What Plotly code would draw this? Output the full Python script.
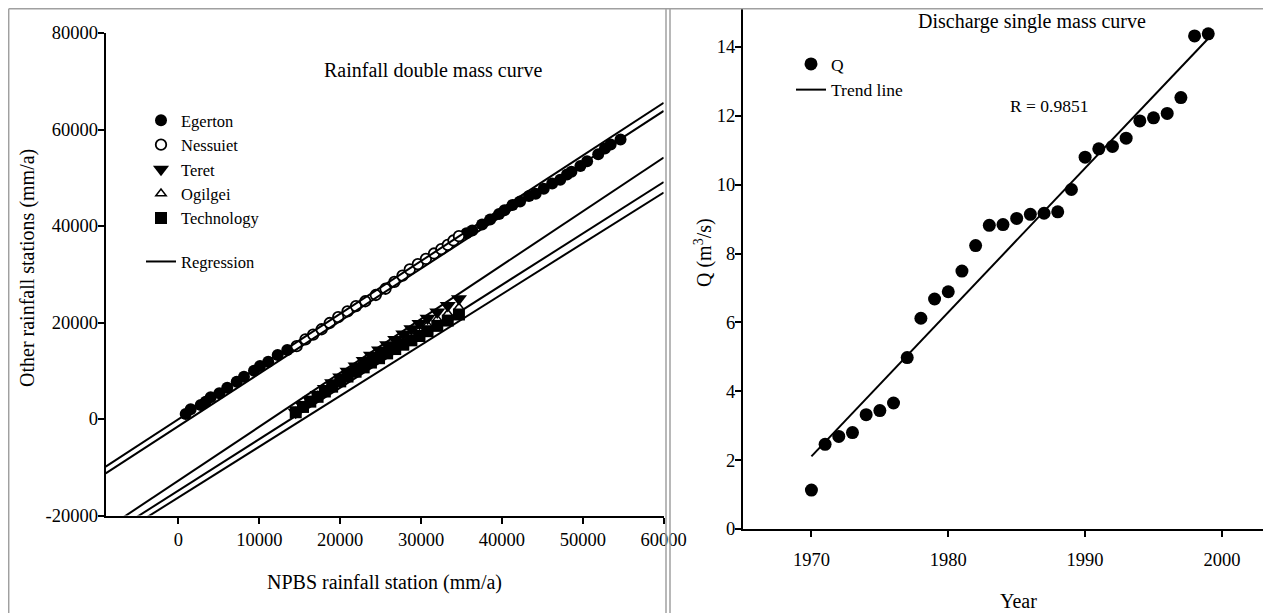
import numpy as np
import plotly.graph_objects as go

W, H = 1271, 613
OFF = 8  # the page places the figure 8 px in from the top-left corner
FONT = "Liberation Serif, Times New Roman, serif"

# ---------------- Left panel: rainfall double mass curve ----------------
egerton_x = [890, 1510, 2750, 3360, 3980, 5050, 6030, 7200, 8100, 9340, 10080, 11100, 12270, 13450,
             None,
             35610, 36330, 37540, 38540, 39640, 40310, 41300, 42240, 43340, 44170, 45170,
             46210, 47210, 48040, 48590, 49700, 50530, 51900, 52730, 53440, 54660]
egerton_y = [1040, 2010, 2900, 3590, 4490, 5320, 6490, 7730, 8770, 10010, 10980, 11880, 13260, 14300,
             None,
             38510, 39070, 40290, 41340, 42470, 43280, 44340, 45060, 46200, 46680, 47740,
             48790, 49600, 50650, 51220, 52440, 53410, 54860, 56080, 56890, 57930]

nessuiet_x = [14610, 15700, 16650, 17700, 18700, 19750, 20900, 21950, 23100, 24400, 25600,
              26700, 27700, 28600, 29600, 30600, 31600, 32500, 33300, 34000, 34680]
nessuiet_y = [15100, 16500, 17500, 18600, 19900, 21100, 22300, 23400, 24400, 25700, 27000,
              28400, 29700, 31000, 32100, 33200, 34300, 35200, 36100, 37000, 37900]

late_x = [14500, 15400, 16300, 17200, 18100, 19000, 20000, 20900, 21900, 22900, 23800,
          24800, 25800, 26800, 27800, 28800, 29800, 30800, 32000, 33300, 34680]
teret_y = [1400, 2700, 3900, 5100, 6300, 7500, 8700, 9900, 11000, 12100, 13200,
           14300, 15400, 16500, 17600, 18700, 19800, 20900, 22200, 23500, 24900]
ogilgei_y = [1400, 2550, 3650, 4750, 5900, 7000, 8150, 9250, 10300, 11300, 12350,
             13350, 14400, 15400, 16400, 17400, 18400, 19450, 20650, 21800, 23100]
technology_y = [1400, 2500, 3600, 4600, 5700, 6700, 7800, 8800, 9800, 10700, 11700,
                12600, 13600, 14500, 15400, 16300, 17200, 18200, 19300, 20400, 21660]

reg_names = ["Egerton", "Nessuiet", "Teret", "Ogilgei", "Technology"]
reg_slope = [1.093, 1.0886, 1.116, 1.0654, 1.0533]
reg_intercept = [-40, -1470, -12757, -14822, -16250]

npbs_range = [-9000, 60000]
other_range = [-20000, 80000]
npbs_ticks = [0, 10000, 20000, 30000, 40000, 50000, 60000]
other_ticks = [-20000, 0, 20000, 40000, 60000, 80000]

# ---------------- Right panel: discharge single mass curve ----------------
years = list(range(1970, 2000))
q = [1.13, 2.46, 2.69, 2.80, 3.32, 3.44, 3.66, 4.98, 6.12, 6.68,
     6.89, 7.49, 8.23, 8.82, 8.84, 9.02, 9.14, 9.17, 9.21, 9.86,
     10.80, 11.04, 11.11, 11.35, 11.85, 11.94, 12.07, 12.53, 14.32, 14.38]
year_ticks = [1970, 1980, 1990, 2000]
q_ticks = [0, 2, 4, 6, 8, 10, 12, 14]
year_range = [1965, 2004.17]
q_range = [0, 15.16]

fig = go.Figure()


def fx(p):
    """screen pixel x -> paper fraction"""
    return (p - OFF) / W


def fy(p):
    """screen pixel y -> paper fraction"""
    return 1 - (p - OFF) / H


# stations (legendrank keeps the original legend order)
fig.add_trace(go.Scatter(x=egerton_x, y=egerton_y, mode="markers", name="Egerton",
                         marker=dict(symbol="circle", size=12, color="black"),
                         legendgroup="st", legendrank=1, xaxis="x", yaxis="y"))
fig.add_trace(go.Scatter(x=nessuiet_x, y=nessuiet_y, mode="markers", name="Nessuiet",
                         marker=dict(symbol="circle", size=10.5, color="white",
                                     line=dict(color="black", width=1.8)),
                         legendgroup="st", legendrank=2, xaxis="x", yaxis="y"))
fig.add_trace(go.Scatter(x=late_x, y=ogilgei_y, mode="markers", name="Ogilgei",
                         marker=dict(symbol="triangle-up", size=9, color="white",
                                     line=dict(color="black", width=1.5)),
                         legendgroup="st", legendrank=4, xaxis="x", yaxis="y"))
fig.add_trace(go.Scatter(x=late_x, y=teret_y, mode="markers", name="Teret",
                         marker=dict(symbol="triangle-down", size=14, color="black"),
                         legendgroup="st", legendrank=3, xaxis="x", yaxis="y"))
fig.add_trace(go.Scatter(x=late_x, y=technology_y, mode="markers", name="Technology",
                         marker=dict(symbol="square", size=12, color="black"),
                         legendgroup="st", legendrank=5, xaxis="x", yaxis="y"))

line_x = np.array(npbs_range, dtype=float)
for i, (s, b) in enumerate(zip(reg_slope, reg_intercept)):
    fig.add_trace(go.Scatter(x=line_x, y=s * line_x + b, mode="lines", name="Regression",
                             line=dict(color="black", width=2),
                             legendgroup="reg", legendrank=10, showlegend=(i == 0),
                             xaxis="x", yaxis="y"))

# right panel
fit = np.polyfit(years, q, 1)
trend_x = np.array([years[0], years[-1]], dtype=float)
fig.add_trace(go.Scatter(x=years, y=q, mode="markers", name="Q",
                         marker=dict(symbol="circle", size=13, color="black"),
                         xaxis="x2", yaxis="y2", legend="legend2"))
fig.add_trace(go.Scatter(x=trend_x, y=np.polyval(fit, trend_x), mode="lines", name="Trend line",
                         line=dict(color="black", width=2),
                         xaxis="x2", yaxis="y2", legend="legend2"))

axis_common = dict(showgrid=False, zeroline=False, showline=True, linecolor="black",
                   linewidth=2, ticks="outside", ticklen=6, tickwidth=1.5, tickcolor="black",
                   automargin=False,
                   tickfont=dict(family=FONT, size=18.5, color="black"))

fig.update_layout(
    width=W, height=H,
    margin=dict(l=0, r=0, t=0, b=0, pad=0, autoexpand=False),
    paper_bgcolor="white", plot_bgcolor="white",
    font=dict(family=FONT, color="black"),
    xaxis=dict(domain=[fx(105.7), fx(663.7)], range=npbs_range, tickvals=npbs_ticks,
               ticktext=[str(v) for v in npbs_ticks], anchor="y", **axis_common),
    yaxis=dict(domain=[fy(515.5), fy(33)], range=other_range, tickvals=other_ticks,
               ticktext=[str(v) for v in other_ticks], anchor="x", ticklabelstandoff=-4,
               **axis_common),
    xaxis2=dict(domain=[fx(743), 1.0], range=year_range, tickvals=year_ticks,
                ticktext=[str(v) for v in year_ticks], anchor="y2", ticklabelstandoff=7,
                **axis_common),
    yaxis2=dict(domain=[fy(529), 1.0],
                range=[q_range[0], q_range[0] + (q_range[1] - q_range[0]) * (529 - OFF) / (529 - 7)],
                tickvals=q_ticks, ticktext=[str(v) for v in q_ticks], anchor="x2",
                ticklabelstandoff=-4, **axis_common),
    legend=dict(x=fx(141), y=fy(103), xanchor="left", yanchor="top",
                bgcolor="rgba(0,0,0,0)", traceorder="grouped", tracegroupgap=19,
                font=dict(family=FONT, size=16.5, color="black")),
    legend2=dict(x=fx(791), y=fy(46), xanchor="left", yanchor="top",
                 bgcolor="rgba(0,0,0,0)",
                 font=dict(family=FONT, size=17.5, color="black")),
    showlegend=True,
)


def label(text, x, y, size, angle=0):
    fig.add_annotation(text=text, x=fx(x), y=fy(y), textangle=angle,
                       xref="paper", yref="paper", showarrow=False,
                       xanchor="center", yanchor="middle",
                       font=dict(family=FONT, size=size, color="black"))


label("Rainfall double mass curve", 433, 69.5, 20)
label("Discharge single mass curve", 1032, 21.5, 20)
label("R = 0.9851", 1049, 106, 17.5)
label("NPBS rainfall station (mm/a)", 384, 582, 20)
label("Other rainfall stations (mm/a)", 27, 268, 20, -90)
label("Year", 1018, 601, 20)
label("Q (m<sup>3</sup>/s)", 703, 252, 20, -90)

frame = dict(color="#a0a0a0", width=1.5)
top = fy(8.7)
fig.add_shape(type="line", xref="paper", yref="paper", x0=fx(8.7), x1=fx(8.7), y0=0, y1=top, line=frame)
fig.add_shape(type="line", xref="paper", yref="paper", x0=fx(8.7), x1=1, y0=top, y1=top, line=frame)
fig.add_shape(type="line", xref="paper", yref="paper", x0=fx(666), x1=fx(666), y0=0, y1=top, line=frame)
fig.add_shape(type="line", xref="paper", yref="paper", x0=fx(670), x1=fx(670), y0=0, y1=top, line=frame)

fig.write_html("out.html")
